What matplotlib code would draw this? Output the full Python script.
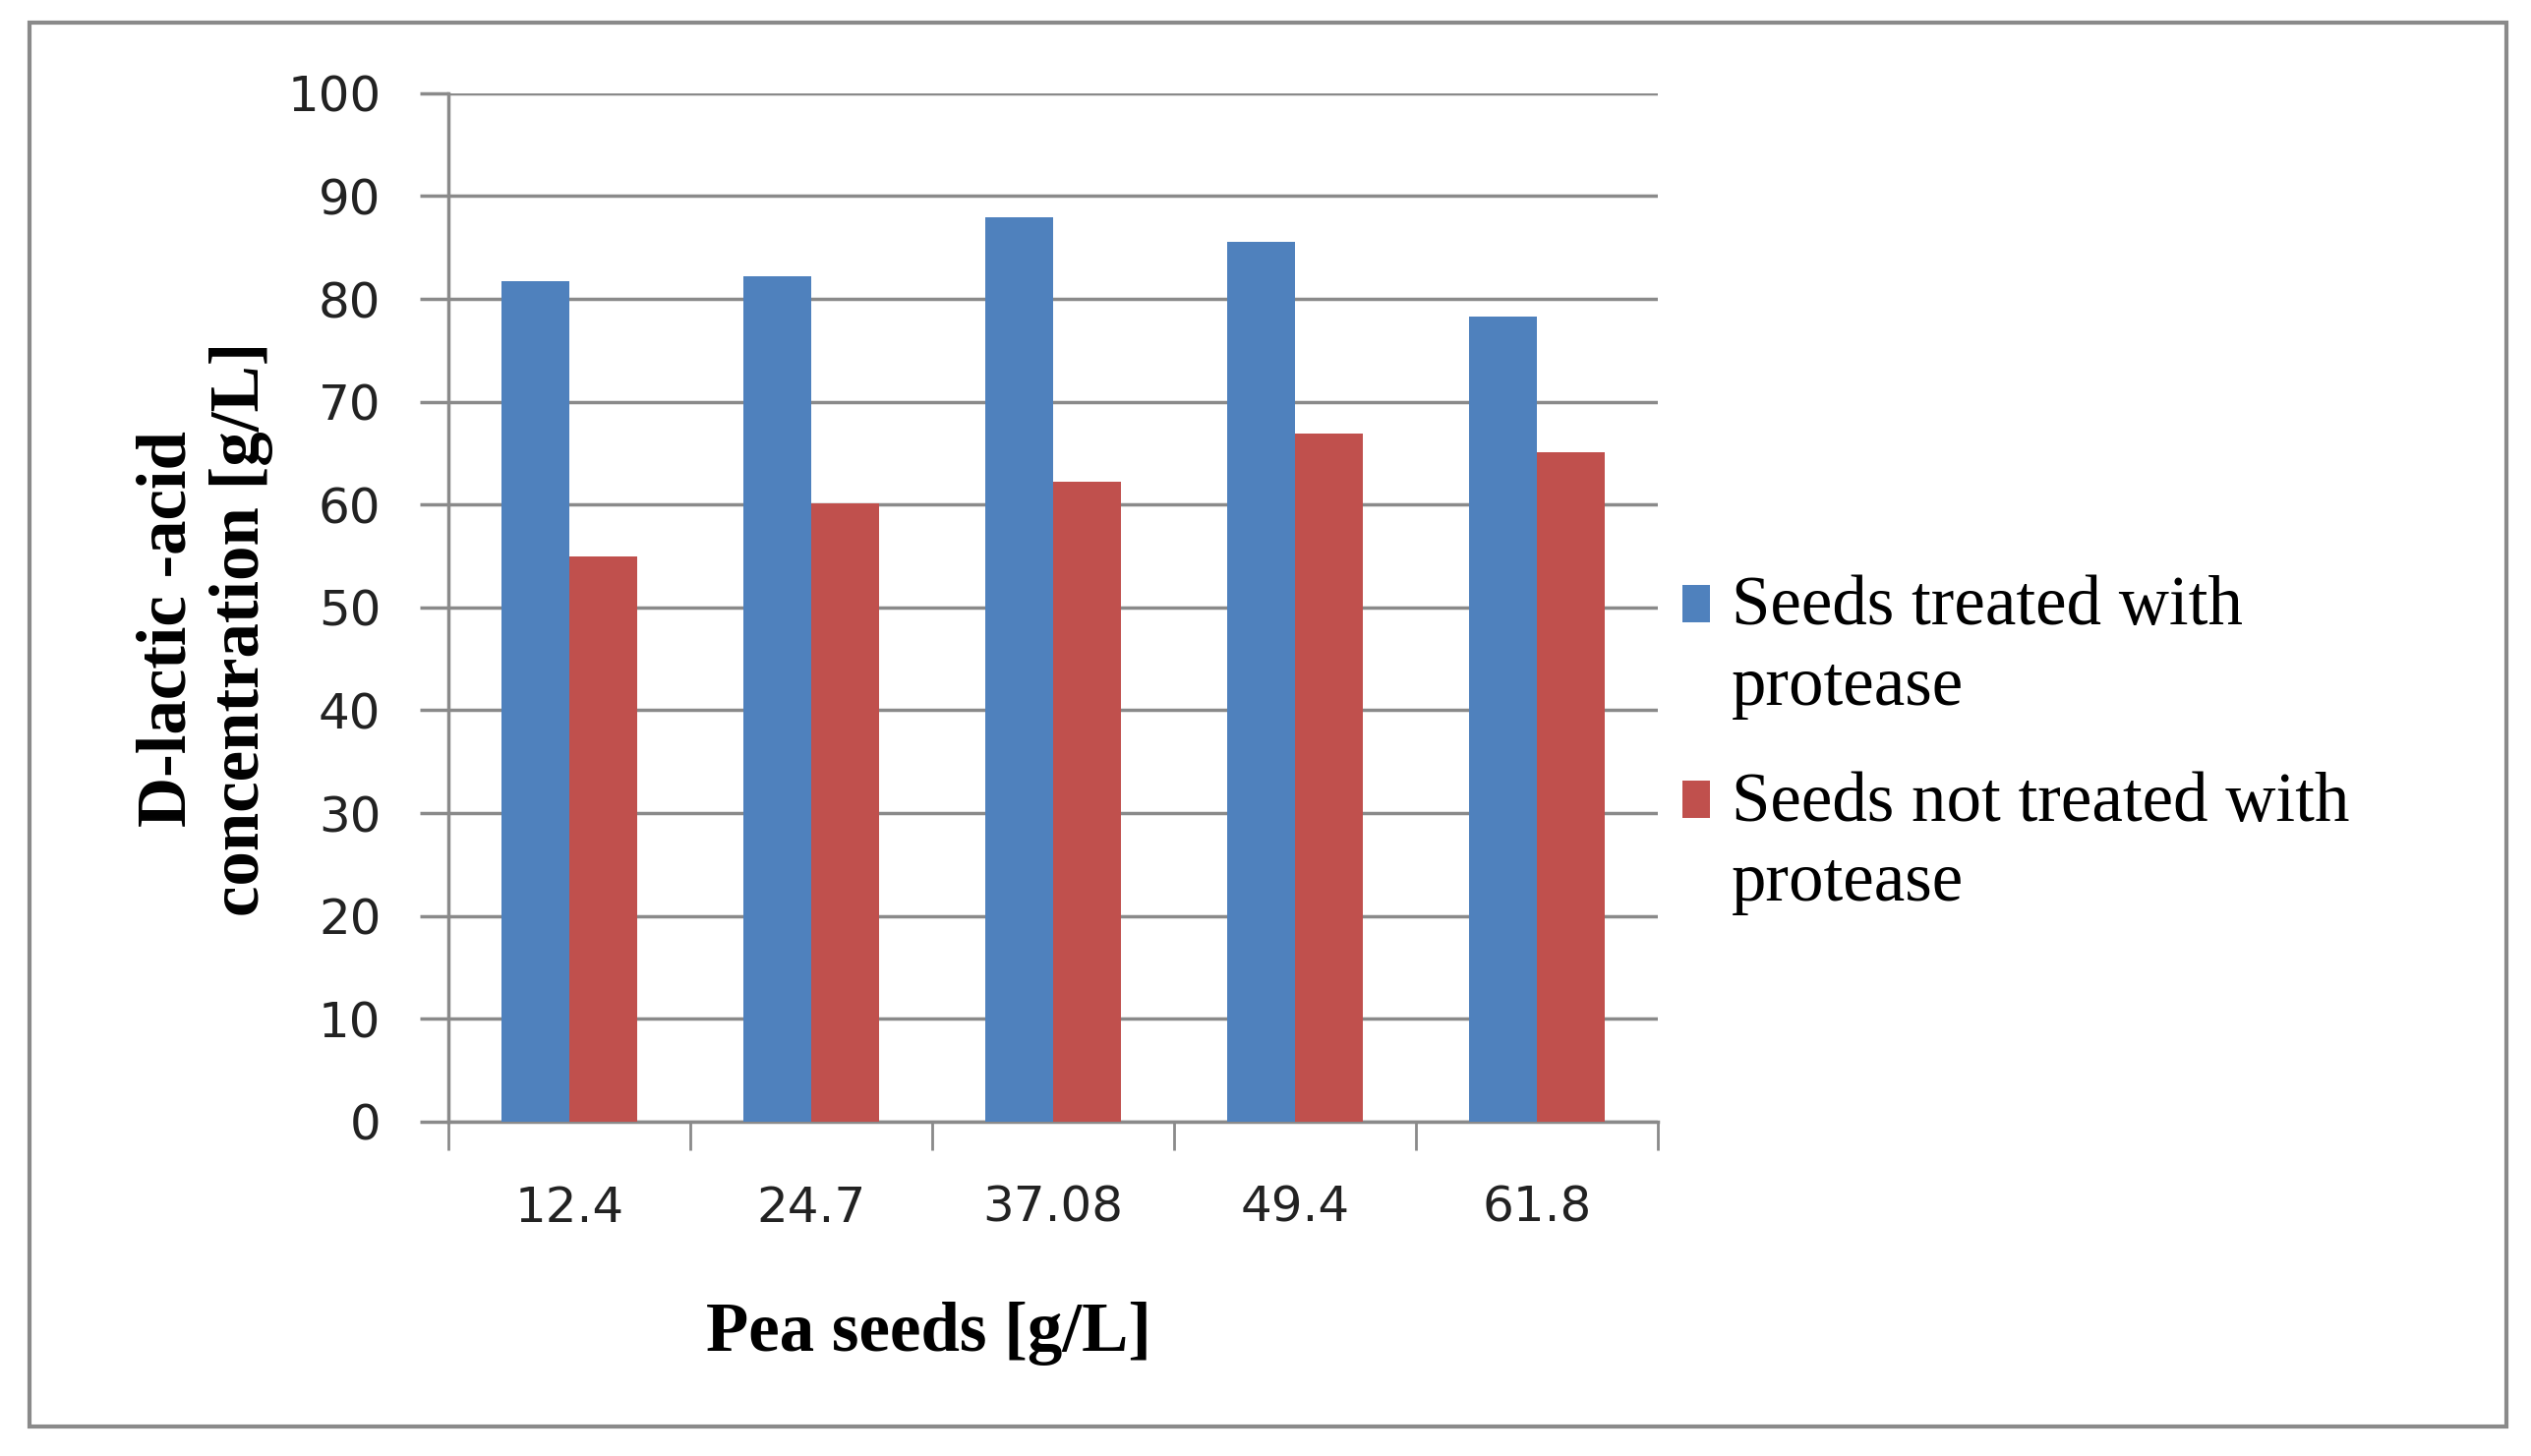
import matplotlib.pyplot as plt
import numpy as np

# ---- data ----
pea_seeds = ["12.4", "24.7", "37.08", "49.4", "61.8"]
treated = [81.7, 82.2, 87.9, 85.5, 78.3]
not_treated = [55.0, 60.1, 62.2, 66.9, 65.1]
series_names = ["Seeds treated with\nprotease", "Seeds not treated with\nprotease"]

fig = plt.figure(figsize=(25.74, 14.81), dpi=100)
ax = fig.add_axes([0.177, 0.2296, 0.478, 0.7064])

x = np.arange(len(pea_seeds))
w = 0.28
ax.bar(x - w / 2, treated, w, color="#4F81BD", label=series_names[0], zorder=3)
ax.bar(x + w / 2, not_treated, w, color="#C0504D", label=series_names[1], zorder=3)

ax.set_xlim(-0.5, len(pea_seeds) - 0.5)
ax.set_ylim(0, 100)
ax.set_yticks(range(0, 101, 10))
ax.yaxis.grid(True, color="#8a8a8a", linewidth=2.5, zorder=0)
ax.tick_params(axis="y", length=21, width=2.5, color="#8a8a8a", pad=28, labelsize=36,
               labelcolor="#222222")

ax.set_xticks(x)
ax.set_xticklabels(pea_seeds)
ax.set_xticks(np.arange(-0.5, len(pea_seeds)), minor=True)
ax.tick_params(axis="x", which="major", length=0, pad=46, labelsize=36, labelcolor="#222222")
ax.tick_params(axis="x", which="minor", length=21, width=2, color="#8a8a8a")

for s in ["top", "right"]:
    ax.spines[s].set_visible(False)
ax.spines["left"].set_color("#8a8a8a")
ax.spines["left"].set_linewidth(2.5)
ax.spines["bottom"].set_color("#8a8a8a")
ax.spines["bottom"].set_linewidth(2.5)

fig.text(0.081, 0.568, "D-lactic -acid\nconcentration [g/L]", rotation=90,
         ha="center", va="center", multialignment="center",
         family="Liberation Serif", weight="bold", fontsize=51, linespacing=1.2)
fig.text(0.367, 0.084, "Pea seeds [g/L]", ha="center", va="center",
         family="Liberation Serif", weight="bold", fontsize=51)

leg = ax.legend(loc="center left", bbox_to_anchor=(0.64, 0.488), bbox_transform=fig.transFigure,
                frameon=False, prop={"family": "Liberation Serif", "size": 51},
                handlelength=0.4, handleheight=0.45, handletextpad=0.3, labelspacing=0.75)
for t in leg.get_texts():
    t.set_linespacing(1.33)
# put the colour squares next to the first text line, like Excel does
for p in leg.get_patches():
    p.set_y(p.get_y() + 32)

# outer frame
fig.patches.append(plt.Rectangle((0.0117, 0.0203), 0.9786, 0.9642, transform=fig.transFigure,
                                 fill=False, edgecolor="#8a8a8a", linewidth=3))

plt.savefig("out.png")
plt.close()
